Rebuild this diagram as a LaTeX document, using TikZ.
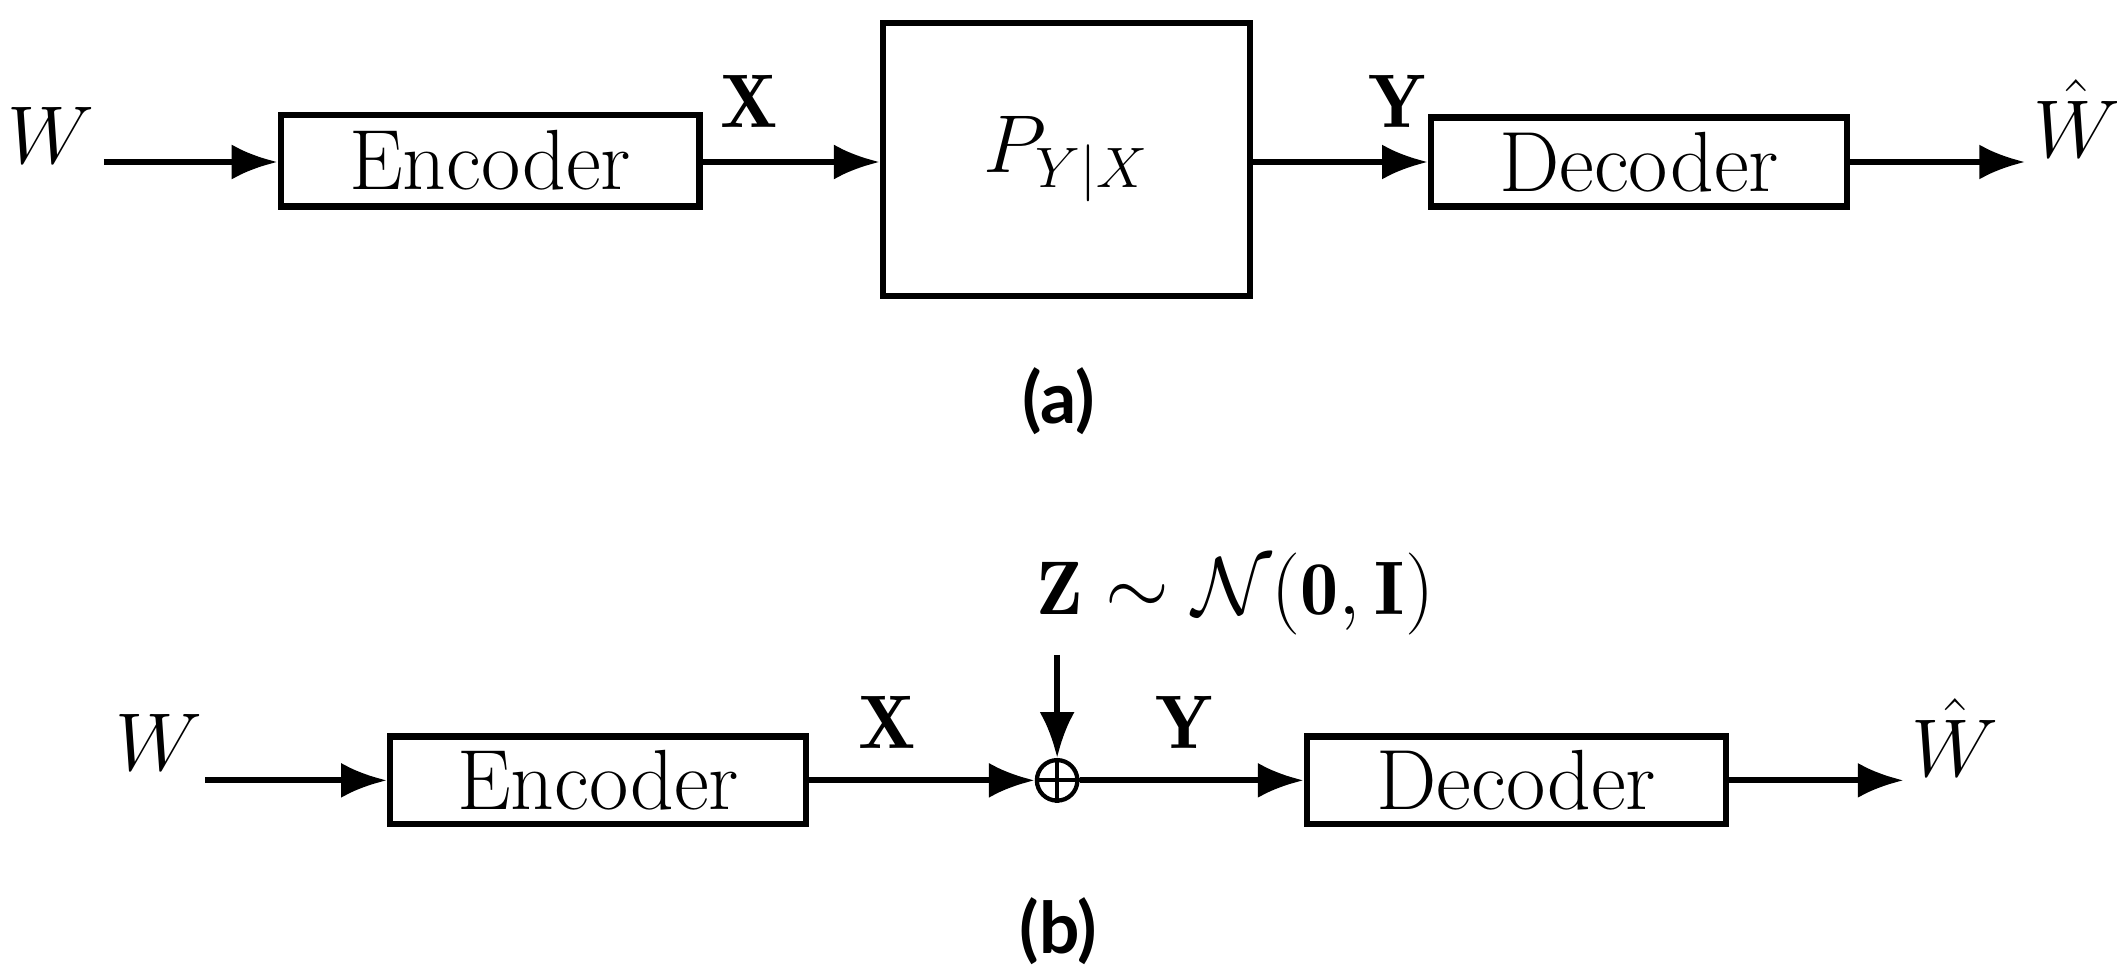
\documentclass[tikz,border=0pt]{standalone}
\usepackage{fontspec}
\usepackage{amsmath,amssymb}
\newfontfamily\capfont{Lato}
\usetikzlibrary{arrows.meta}
\begin{document}
\begin{tikzpicture}[x=0.01cm,y=-0.01cm,
  blk/.style={draw,line width=1.3pt,rectangle,inner sep=0pt,font=\fontsize{18}{21}\selectfont},
  arr/.style={line width=1.3pt,-{Latex[length=3.4mm,width=2.6mm]}},
  lab/.style={font=\fontsize{16}{19}\selectfont},
  captxt/.style={font=\capfont\bfseries\fontsize{15}{18}\selectfont}]
\useasboundingbox (0,0) rectangle (1568,725);
% (a)
\node[lab] (wa) at (38,100) {$W$};
\coordinate (wa0) at (77,120);
\node[blk,minimum width=3.1cm,minimum height=0.68cm] (enca) at (363,119) {Encoder};
\node[blk,minimum width=2.72cm,minimum height=2.02cm] (pa) at (790,118) {$P_{Y|X}$};
\node[blk,minimum width=3.08cm,minimum height=0.66cm] (deca) at (1214,120) {Decoder};
\coordinate (wha) at (1500,120);
\node[lab] (wh1) at (1538,88) {$\hat{W}$};
\draw[arr] (wa0) -- (wa0 -| enca.west);
\draw[arr] (enca.east |- 0,120) -- (pa.west |- 0,120);
\draw[arr] (pa.east |- 0,120) -- (deca.west |- 0,120);
\draw[arr] (deca.east |- 0,120) -- (wha);
\node[lab] (xa) at (555,75) {$\mathbf{X}$};
\node[lab] (ya) at (1035,75) {$\mathbf{Y}$};
\node[captxt] (capa) at (784,297) {(a)};
% (b)
\node[lab] (wb) at (118,550) {$W$};
\coordinate (wb0) at (152,578);
\node[blk,minimum width=3.08cm,minimum height=0.65cm] (encb) at (443,578) {Encoder};
\node[draw,circle,line width=0.9pt,minimum size=0.3cm,inner sep=0pt] (add) at (783,578) {};
\draw[line width=0.9pt] (add.north) -- (add.south) (add.west) -- (add.east);
\node[blk,minimum width=3.1cm,minimum height=0.65cm] (decb) at (1123,578) {Decoder};
\coordinate (whb) at (1410,578);
\node[lab] (wh2) at (1448,546) {$\hat{W}$};
\node[lab] (z) at (915,440) {$\mathbf{Z}\sim\mathcal{N}(\mathbf{0},\mathbf{I})$};
\coordinate (z0) at (783,485);
\draw[arr] (wb0) -- (wb0 -| encb.west);
\draw[arr] (encb.east) -- (add.west);
\draw[arr] (z0) -- (add.north);
\draw[arr] (add.east) -- (decb.west);
\draw[arr] (decb.east) -- (whb);
\node[lab] (xb) at (657,535) {$\mathbf{X}$};
\node[lab] (yb) at (877,535) {$\mathbf{Y}$};
\node[captxt] (capb) at (784,690) {(b)};
\end{tikzpicture}
\end{document}
